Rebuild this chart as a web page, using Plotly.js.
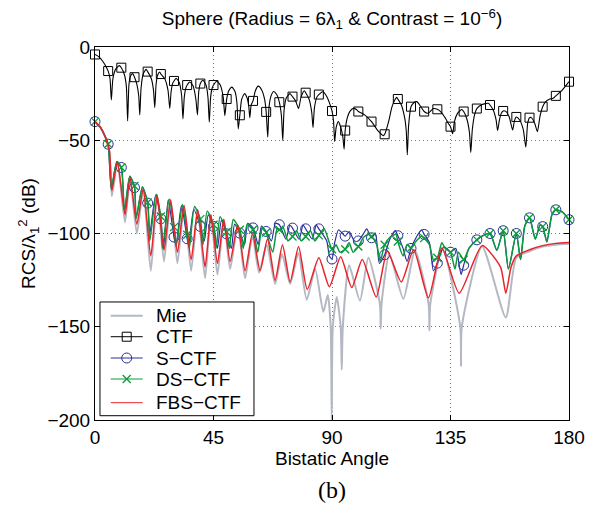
<!DOCTYPE html>
<html>
<head>
<meta charset="utf-8">
<script src="https://cdn.plot.ly/plotly-3.0.1.min.js"></script>
<style>html,body{margin:0;padding:0;background:#fff}#chart{width:607px;height:509px}</style>
</head>
<body>
<div id="chart"></div>
<script>
// ---- data (angle in degrees, RCS in dB) ----
const seriesNames = ['Mie', 'CTF', 'S\u2212CTF', 'DS\u2212CTF', 'FBS\u2212CTF'];

const ctfAngle = [0,1.5,3,4.3,5,5.7,6.2,6.8,7.8,9.2,10,11.2,11.9,12.4,12.9,13.5,14.3,15,15.9,16.6,17,17.5,18.3,19.4,20,21.4,22.2,22.7,23.2,23.8,24.6,25,26.5,27.7,28.4,28.9,29.5,30,30.8,32,32.9,33.4,33.9,34.5,35,36,37.3,38.3,38.9,39.4,40,41,42.2,42.9,43.4,43.9,44.5,45,46.3,47.6,48.7,49.3,50,50.8,52,53.2,53.9,54.4,55,55.7,56.8,57.8,58.4,58.8,59.3,60,60.9,62,63.3,64.4,65,65.6,66.1,66.8,67.8,69,70,70.8,71.3,71.8,72.6,74,75,76.2,77.3,78.3,79.5,80,81.3,82.3,82.8,83.3,84.2,85,86.5,88,89.3,90,90.6,91,91.6,92.4,93.3,94.1,94.6,95,95.8,96.8,98.1,99.3,100,102.5,105,107.5,109.5,110,111.5,112.8,114,114.6,115,116.3,117.6,118.2,118.6,119.1,120,121,122.2,123.5,125,126.5,128.5,130,131.5,133,134.2,135,135.8,136.5,137.5,139.2,140,141.3,142.2,142.7,143.3,144.2,145,147,149.4,150,151.3,152.3,152.9,153.6,154.3,155,156,157.3,158.6,159.3,160,161.2,162.6,163.6,164.3,165,165.8,167,168,169,170,171,172.5,174,175,177.5,180];
const ctfDb = [-4,-5.3,-7.8,-10.8,-12.9,-17,-28.4,-17,-12,-10,-11.1,-15,-21,-39.6,-20,-15.5,-14.3,-16.2,-20,-26,-36.4,-22,-14.5,-12,-13.2,-17,-23,-32.5,-20,-15,-13.4,-14.5,-17,-23,-32.9,-24,-19.5,-18.2,-16.8,-19,-26,-38.6,-27,-22,-20.4,-18.8,-21,-28,-36.4,-24,-19.6,-17.8,-20.5,-27,-40.3,-27,-22,-20.4,-18.4,-20.5,-27,-36.8,-27.9,-23.5,-21.5,-24,-30,-43.9,-36.6,-28,-25,-27.5,-32,-37.9,-31,-28.9,-23.5,-21,-23,-28,-34.8,-48.4,-32,-26.5,-23.9,-25.5,-29.6,-37,-50.2,-34,-27.5,-25,-26.6,-29,-33,-26.5,-23.5,-24.5,-28,-35,-43.2,-33,-27,-25.5,-24,-26.5,-31,-34.3,-40,-50.7,-43,-40,-43,-48,-54.8,-44.8,-38,-34.5,-32.9,-33.5,-34.6,-36.5,-40,-45,-47.5,-46.8,-40,-32,-28,-27,-27.9,-31,-38,-45,-57.8,-42,-32,-30,-29.3,-31.5,-34.6,-35.5,-33,-33.4,-35,-38,-41,-42.7,-46.5,-40,-36,-33.5,-34.6,-39,-46,-56.6,-44,-36,-33,-30.8,-30.2,-31.1,-34,-39,-44.8,-39,-35.5,-34.3,-34.5,-37.5,-44.5,-39.5,-37.5,-39,-44,-53.7,-41,-37.9,-38,-41,-45.4,-37,-32,-29.5,-28,-27.5,-26.2,-23,-18.6];

const mieAngle = [0,2,4,5.5,6.4,8.5,11.4,13.3,15.9,18.3,21.2,23.6,26.2,28.7,31.3,33.8,36.5,39,41.8,44,46.5,48.9,51.3,54.2,57,59.8,62.3,65.2,68.4,71,74.1,77.2,80.4,83.6,86.7,88.4,89.5,89.9,90.3,91.8,93.3,93.7,94.1,96.5,100.6,103.8,108.2,108.5,108.8,111.8,117.1,121.5,126.7,127,127.3,132,138.7,139,139.3,147,156,160,165,170,175,180];
const mieDb = [-40,-43,-48.5,-56,-80,-61.5,-94,-70,-100,-76,-120,-79.3,-115,-82,-116,-85,-120,-87.3,-124,-90,-122,-92.5,-119,-95.5,-124,-101,-121,-106,-127,-111,-127,-110.5,-135.5,-119,-142,-133,-150,-200,-150,-134,-150,-173,-150,-117,-136,-113,-138,-151,-138,-111,-135,-109,-138,-152,-138,-108,-150,-171,-150,-107,-145,-113,-109.5,-107,-106,-105.5];

const sctfAngle = [0,2,4,5,6.2,8.3,10,11.2,13.2,15,15.6,18,20,20.8,23,25,26,27.8,30,30.8,32.8,35,35.6,37.5,40,41.5,43,45,46.5,48,50,51.8,53,55,56.8,58,60,62,63.2,65,67,68.5,70,72.5,74,75,77.5,79,80,82.5,84,85,88,89,90,91,92.5,94,95,96.5,98.5,100,102,103.2,105,106.5,108,110,112,114,115,117,118.5,120,122,124,125,127,128.5,130,132.5,135,137,139,140,142,145,147.5,150,152.6,155,157,160,161.6,163.2,165,167.2,169,170,171.6,173.5,175,177.5,180];
const sctfDb = [-40,-43,-48.5,-52.1,-76,-61.5,-64.6,-88,-69.3,-75.4,-92,-75,-83.7,-100,-79.5,-92.1,-108,-82,-101.9,-106,-85,-102.8,-106,-87,-96.2,-104,-90,-96.2,-108,-93,-100.2,-108,-95,-99.8,-106,-94.5,-97,-106,-96,-98.9,-104,-94.5,-95.3,-103,-95.5,-97.1,-103,-95.5,-97.5,-103,-95.5,-97.5,-104,-112,-113.7,-105,-98,-100,-101.4,-99,-104,-104,-100,-97.5,-102.3,-100,-116,-111.4,-103,-98.5,-101.2,-108,-115,-108,-102,-98,-100.5,-105,-120,-115.9,-107,-110,-108,-122,-117,-108,-103.4,-101,-100,-109,-98.5,-119,-100,-114,-96,-91.6,-103,-95.5,-96.3,-104.5,-90,-87.3,-88.5,-92.6];

const dsctfAngle = [0,2,4,5,6.2,8.3,10,11.2,13.2,15,15.6,18,20,20.8,23.2,25,25.6,28.2,30,30.8,33.2,35,35.8,37.8,40,41,42.6,45,46,47.5,50,51,52.5,55,56.3,57.8,60,61.8,63.5,65,67.5,69.2,70,71.5,73.3,75,76.6,78.3,80,81.8,83.5,85,87,89,90,91.5,93,95,96.5,98,100,102,103.8,105,107,108.3,110,112,114.3,115,117,118.5,120,122,124,125,127,128.5,130,131.7,133,135,136.7,138,140,142,145,147.5,150,152.6,155,157,160,161.6,163.2,165,167.2,169,170,171.6,173.5,175,177.5,180];
const dsctfDb = [-40,-43,-48.5,-52,-76,-61.5,-64.6,-88,-69.3,-74.5,-92,-75,-83.4,-104,-79,-90.9,-108,-81.5,-96.6,-107,-84.5,-100.7,-108,-85.5,-92.3,-106,-88,-95.3,-108,-91,-99.2,-108,-92.5,-98,-108,-95,-98,-110,-96.5,-99.5,-110,-97,-98,-97,-104,-101.6,-98.5,-104,-101.6,-98.5,-104,-101,-97.5,-105,-108.4,-106,-110,-108.4,-105,-110,-107,-102,-100.5,-101.6,-106,-115,-106,-102,-100.5,-104.3,-112,-106,-107.8,-104,-101.5,-102.5,-106,-114,-113,-105,-108,-110,-119,-110,-114,-108,-103.4,-101,-100,-109,-98.5,-119,-100,-114,-96,-91.6,-103,-95.5,-96.3,-104.5,-90,-87.3,-88.5,-92.6];

const fbsAngle = [0,2,4,5.5,6.4,8.5,11.4,13.3,15.9,18.3,21.2,23.6,26.2,28.7,31.3,33.8,36.5,39,41.8,44,46.5,48.9,51.3,54.2,57,59.8,62.7,65.5,68.4,71.2,74.1,77.3,80.6,85,89,93.3,97.5,101.5,106.8,111,116.3,121,126.6,131.7,138.3,147,154,156,158,160,165,170,175,180];
const fbsDb = [-40,-43,-48.5,-56,-77,-61.5,-90,-70,-95,-76,-112,-79.3,-109,-82,-110,-85,-114,-87.3,-118,-90,-116,-92.5,-115,-95.5,-120,-100,-120,-103,-125,-106,-126,-107,-130,-113,-128.5,-112.5,-129,-114,-134,-109.5,-126,-108.7,-134.5,-107.8,-132,-106.5,-118,-132,-118,-112,-108.7,-106.5,-105.3,-104.8];

const xTicks = [0, 45, 90, 135, 180];
const yTicks = [0, -50, -100, -150, -200];

// ---- helpers ----
function at5(angles, vals) {
  const xs = [], ys = [];
  angles.forEach((a, i) => { if (Math.abs(a / 5 - Math.round(a / 5)) < 1e-9) { xs.push(a); ys.push(vals[i]); } });
  return {x: xs, y: ys};
}
const FONT = 'Liberation Sans, Arial, Helvetica, sans-serif';
const colors = ['#b3b8c2', '#000000', '#2a2e9a', '#0a9a3c', '#e8232b'];
const markers = [null,
  {symbol: 'square-open', size: 9, color: colors[1], line: {width: 1, color: colors[1]}},
  {symbol: 'circle-open', size: 10, color: colors[2], line: {width: 1, color: colors[2]}},
  {symbol: 'x-thin-open', size: 8, color: colors[3], line: {width: 1.3, color: colors[3]}},
  null];
const widths = [2, 1.1, 1.2, 1.5, 1.5];
const spl = (c, w) => ({color: c, width: w, shape: 'spline', smoothing: 0.6});
const line = (x, y, i) => ({x: x, y: y, mode: 'lines', showlegend: false, hoverinfo: 'skip', line: spl(colors[i], widths[i])});
const mk = (m, i) => ({x: m.x, y: m.y, mode: 'markers', showlegend: false, cliponaxis: false, hoverinfo: 'skip', marker: markers[i]});

const traces = [
  line(mieAngle, mieDb, 0),
  line(ctfAngle, ctfDb, 1), mk(at5(ctfAngle, ctfDb), 1),
  line(sctfAngle, sctfDb, 2), mk(at5(sctfAngle, sctfDb), 2),
  line(dsctfAngle, dsctfDb, 3), mk(at5(dsctfAngle, dsctfDb), 3),
  line(fbsAngle, fbsDb, 4)
];

// ---- legend box, drawn on an overlay axis spanning the plot area (0..1) ----
const legBox = {x0: 0.0105, x1: 0.3354, y0: 0.0115, y1: 0.3164};
const legRowY = [0.2796, 0.2233, 0.1662, 0.1099, 0.0464];
const legLine = [0.0331, 0.1006], legMark = 0.0669, legText = 0.1245;
traces.push({x: [legBox.x0, legBox.x1, legBox.x1, legBox.x0, legBox.x0],
             y: [legBox.y0, legBox.y0, legBox.y1, legBox.y1, legBox.y0],
             xaxis: 'x2', yaxis: 'y2', mode: 'lines', fill: 'toself', fillcolor: '#fff',
             line: {color: '#000', width: 1}, showlegend: false, hoverinfo: 'skip'});
const annotations = [];
seriesNames.forEach((name, i) => {
  traces.push({x: legLine, y: [legRowY[i], legRowY[i]], xaxis: 'x2', yaxis: 'y2', mode: 'lines',
               line: {color: colors[i], width: i === 0 ? 2 : 1}, showlegend: false, hoverinfo: 'skip'});
  if (markers[i]) traces.push({x: [legMark], y: [legRowY[i]], xaxis: 'x2', yaxis: 'y2', mode: 'markers',
               marker: markers[i], showlegend: false, hoverinfo: 'skip'});
  annotations.push({text: name, xref: 'paper', yref: 'paper', x: legText, y: legRowY[i],
                    xanchor: 'left', yanchor: 'middle', showarrow: false,
                    font: {family: FONT, size: 19, color: '#000'}});
});
annotations.push({text: '(b)', xref: 'paper', yref: 'paper', x: 0.5, y: -0.188, xanchor: 'center', yanchor: 'middle',
                  showarrow: false, font: {family: 'Liberation Serif, Times New Roman, serif', size: 24, color: '#000'}});

const axisCommon = {
  showline: true, linecolor: '#000', linewidth: 1, mirror: 'ticks',
  ticks: 'inside', ticklen: 5, tickcolor: '#000',
  showgrid: true, gridcolor: '#777', griddash: '1px,3px', gridwidth: 1,
  zeroline: false, tickfont: {family: FONT, size: 19, color: '#000'}
};

const layout = {
  width: 607, height: 509,
  margin: {l: 95, r: 38, t: 47, b: 89},
  paper_bgcolor: '#fff', plot_bgcolor: '#fff',
  font: {family: FONT, size: 19, color: '#000'},
  showlegend: false,
  title: {text: 'Sphere (Radius = 6\u03bb<sub>1</sub> & Contrast = 10<sup>\u22126</sup>)',
          x: 0.5, xref: 'paper', xanchor: 'center', y: 0.963, yanchor: 'middle',
          font: {family: FONT, size: 19, color: '#000'}},
  xaxis: Object.assign({}, axisCommon, {range: [0, 180], tickvals: xTicks, ticktext: xTicks.map(String),
          title: {text: 'Bistatic Angle', standoff: 2, font: {family: FONT, size: 19}}}),
  yaxis: Object.assign({}, axisCommon, {range: [-200, 0], tickvals: yTicks,
          ticktext: yTicks.map(v => v < 0 ? '\u2212' + Math.abs(v) : String(v)),
          title: {text: 'RCS/\u03bb<sub>1</sub><sup>2</sup> (dB)', standoff: 6, font: {family: FONT, size: 19}}}),
  xaxis2: {overlaying: 'x', range: [0, 1], visible: false, fixedrange: true},
  yaxis2: {overlaying: 'y', range: [0, 1], visible: false, fixedrange: true},
  annotations: annotations
};

Plotly.newPlot('chart', traces, layout, {displayModeBar: false, staticPlot: true});
</script>
</body>
</html>
